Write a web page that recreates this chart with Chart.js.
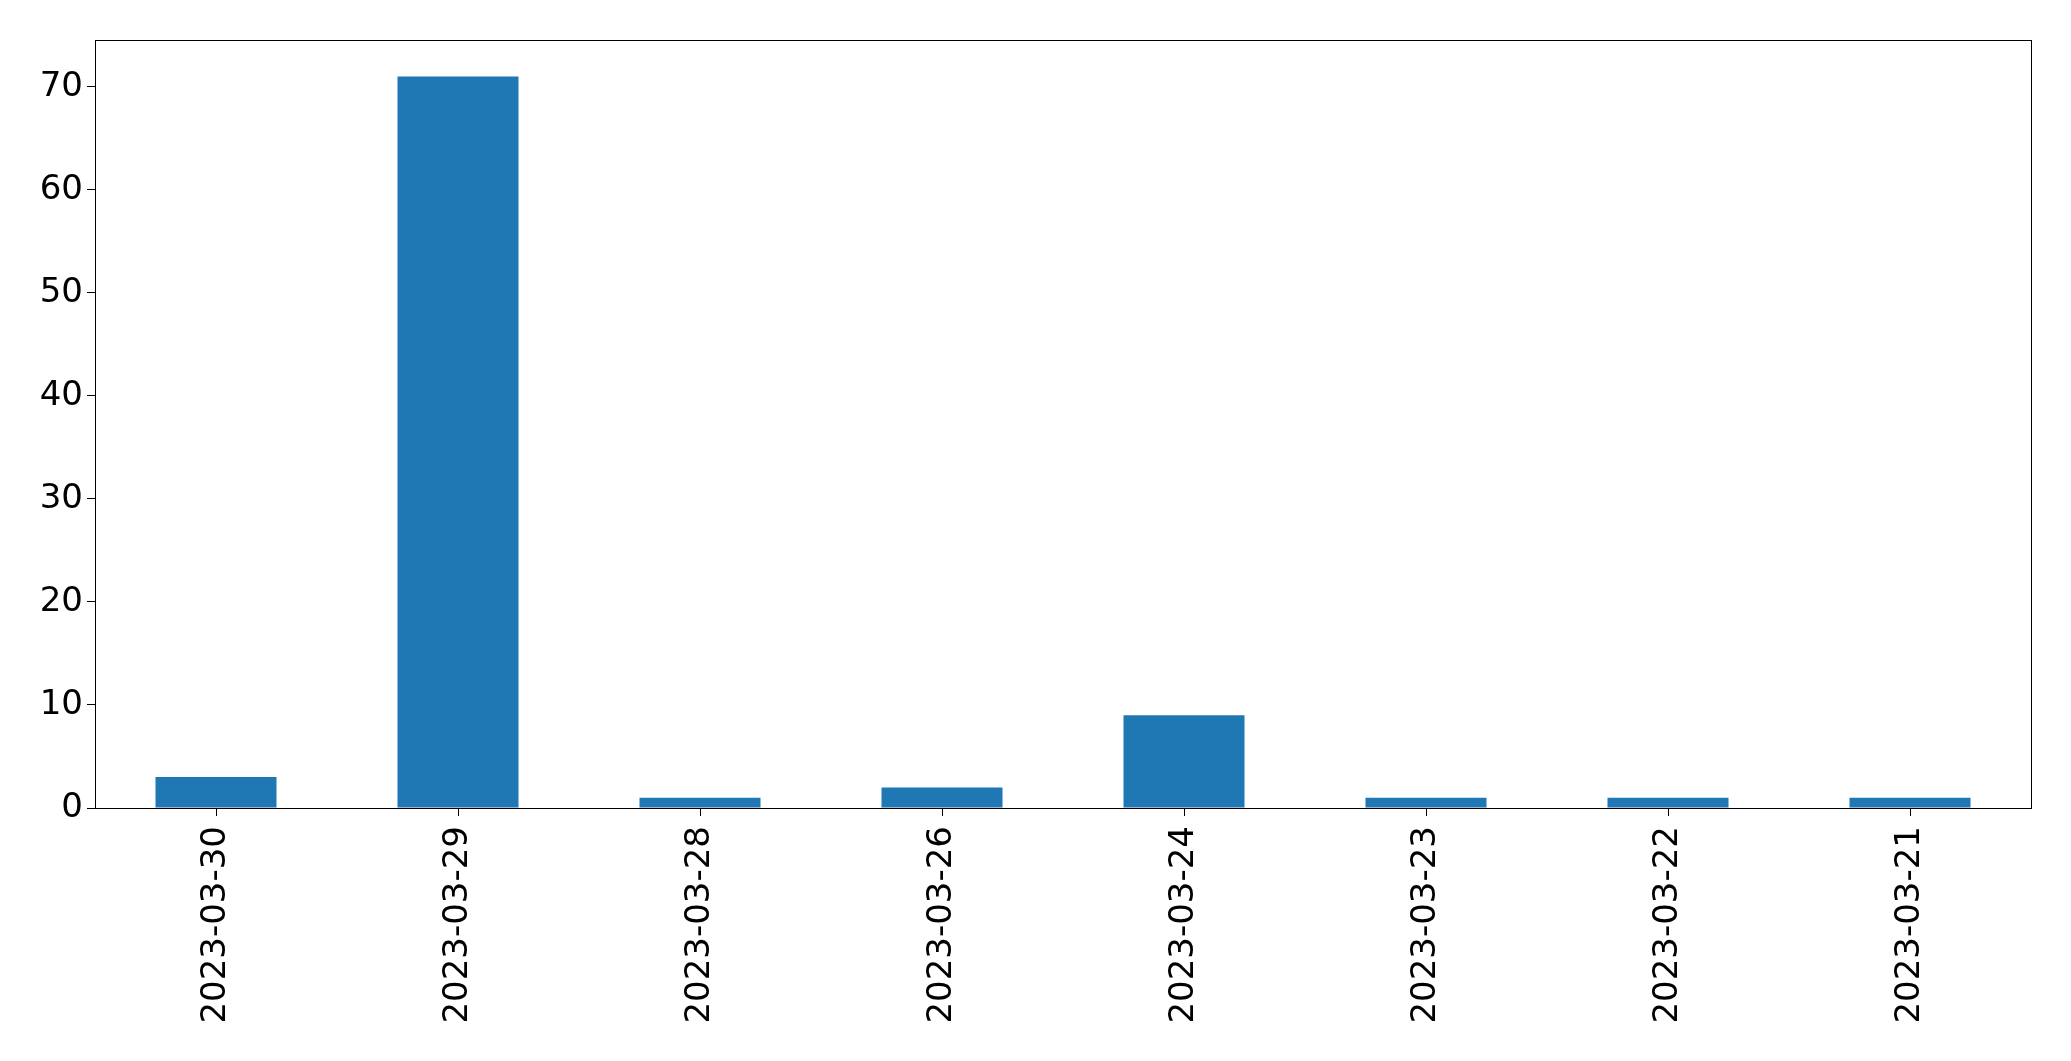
<!DOCTYPE html>
<html>
<head>
<meta charset="utf-8">
<script src="https://cdn.jsdelivr.net/npm/chart.js@4.4.0/dist/chart.umd.min.js"></script>
<style>
  html, body { margin: 0; padding: 0; background: #fff; }
  canvas { display: block; }
</style>
</head>
<body>
<canvas id="chart" width="2071" height="1061"></canvas>
<script>
const dates = ['2023-03-30', '2023-03-29', '2023-03-28', '2023-03-26', '2023-03-24', '2023-03-23', '2023-03-22', '2023-03-21'];
const counts = [3, 71, 1, 2, 9, 1, 1, 1];
const yTicks = [0, 10, 20, 30, 40, 50, 60, 70];

// Frame around the plot area (matplotlib style box)
const frame = {
  id: 'frame',
  afterDraw(chart) {
    const { ctx, chartArea } = chart;
    ctx.save();
    ctx.strokeStyle = '#000';
    ctx.lineWidth = 1;
    ctx.strokeRect(Math.round(chartArea.left) + 0.5, Math.round(chartArea.top) + 0.5,
      Math.round(chartArea.right - chartArea.left), Math.round(chartArea.bottom - chartArea.top));
    ctx.restore();
  }
};

const font = { family: '"DejaVu Sans", sans-serif', size: 34 };

new Chart(document.getElementById('chart'), {
  type: 'bar',
  data: {
    labels: dates,
    datasets: [{
      data: counts,
      backgroundColor: '#1f77b4',
      borderWidth: 0,
      barPercentage: 0.5,
      categoryPercentage: 1
    }]
  },
  options: {
    responsive: false,
    animation: false,
    devicePixelRatio: 1,
    layout: { padding: { top: 40, right: 40, left: 0, bottom: 0 } },
    plugins: {
      legend: { display: false },
      tooltip: { enabled: false }
    },
    scales: {
      x: {
        offset: true,
        grid: { drawOnChartArea: false, drawTicks: true, tickLength: 8, tickColor: '#000', offset: false },
        border: { display: true, color: '#000' },
        ticks: { color: '#000', font: font, minRotation: 90, maxRotation: 90, padding: 10, autoSkip: false },
        afterFit(scale) { scale.height = 1061 - 808; }
      },
      y: {
        min: 0,
        max: 74.55,
        grid: { drawOnChartArea: false, drawTicks: true, tickLength: 8, tickColor: '#000' },
        border: { display: true, color: '#000' },
        ticks: { color: '#000', font: font, stepSize: 10, padding: 4 },
        afterBuildTicks(scale) { scale.ticks = yTicks.map(v => ({ value: v })); },
        afterFit(scale) { scale.width = 95; }
      }
    }
  },
  plugins: [frame]
});
</script>
</body>
</html>
